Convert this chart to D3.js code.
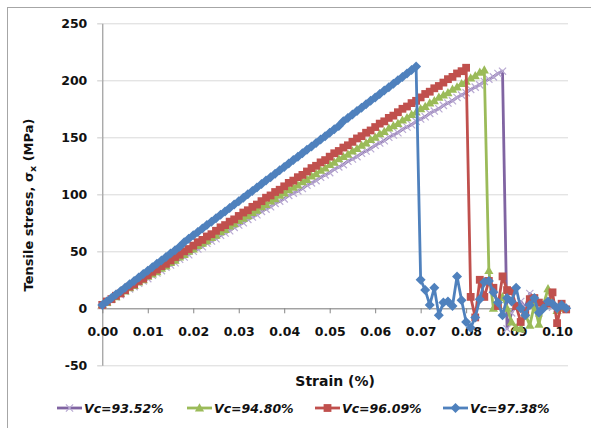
<!DOCTYPE html>
<html>
<head>
<meta charset="utf-8">
<script src="https://cdn.jsdelivr.net/npm/d3@7"></script>
<style>
body { margin: 0; background: #fff; }
#stress-plot svg { display: block; }
</style>
</head>
<body>
<div id="stress-plot"></div>
<script>
// strain (%) sampled by the simulation, shared by all four runs
const strain = [
    0.000, 0.001, 0.002, 0.003, 0.004, 0.005, 0.006, 0.007, 0.008, 0.009,
    0.010, 0.011, 0.012, 0.013, 0.014, 0.015, 0.016, 0.017, 0.018, 0.019,
    0.020, 0.021, 0.022, 0.023, 0.024, 0.025, 0.026, 0.027, 0.028, 0.029,
    0.030, 0.031, 0.032, 0.033, 0.034, 0.035, 0.036, 0.037, 0.038, 0.039,
    0.040, 0.041, 0.042, 0.043, 0.044, 0.045, 0.046, 0.047, 0.048, 0.049,
    0.050, 0.051, 0.052, 0.053, 0.054, 0.055, 0.056, 0.057, 0.058, 0.059,
    0.060, 0.061, 0.062, 0.063, 0.064, 0.065, 0.066, 0.067, 0.068, 0.069,
    0.070, 0.071, 0.072, 0.073, 0.074, 0.075, 0.076, 0.077, 0.078, 0.079,
    0.080, 0.081, 0.082, 0.083, 0.084, 0.085, 0.086, 0.087, 0.088, 0.089,
    0.090, 0.091, 0.092, 0.093, 0.094, 0.095, 0.096, 0.097, 0.098, 0.099,
    0.100, 0.101, 0.102
];

// tensile stress (MPa), one value per strain step
const stressVc9352 = [
    3, 5, 8, 10, 12, 15, 17, 19, 22, 24, 26, 29, 31, 33, 36, 38, 40, 43, 45, 47,
    50, 52, 54, 57, 59, 61, 64, 66, 68, 71, 73, 75, 78, 80, 82, 85, 87, 89, 92, 94,
    96, 99, 101, 103, 105, 108, 110, 112, 115, 117, 119, 122, 124, 126, 129, 131, 133, 136, 138, 140,
    143, 145, 147, 150, 152, 154, 157, 159, 161, 164, 166, 168, 171, 173, 175, 178, 180, 182, 185, 187,
    189, 192, 194, 196, 199, 201, 203, 206, 208,
    -18, -4, 3, 6, 1, 13, 8, -4, 2, 5, 1, 0
];
const stressVc9480 = [
    3, 5, 8, 10, 13, 15, 18, 20, 23, 25, 28, 30, 32, 35, 37, 40, 42, 45, 47, 50,
    52, 55, 57, 59, 62, 64, 67, 69, 72, 74, 77, 79, 81, 84, 86, 89, 91, 94, 96, 99,
    101, 104, 106, 108, 111, 113, 116, 118, 121, 123, 126, 128, 131, 133, 135, 138, 140, 143, 145, 148,
    150, 153, 155, 158, 160, 162, 165, 167, 170, 172, 175, 177, 180, 182, 185, 187, 189, 192, 194, 197,
    199, 202, 204, 207, 209,
    33, 0, 3, 10, 0, -12, -17, -18, -5, -15, 3, -14, 3, 17, 5, -2, 0
];
const stressVc9609 = [
    3, 6, 8, 11, 13, 16, 19, 21, 24, 26, 29, 32, 34, 37, 39, 42, 45, 47, 50, 52,
    55, 58, 60, 63, 65, 68, 71, 73, 76, 78, 81, 84, 86, 89, 91, 94, 97, 99, 102, 104,
    107, 110, 112, 115, 117, 120, 123, 125, 128, 130, 133, 136, 138, 141, 143, 146, 149, 151, 154, 156,
    159, 162, 164, 167, 169, 172, 175, 177, 180, 182, 185, 188, 190, 193, 195, 198, 201, 203, 206, 208,
    211,
    10, -8, 25, 10, 24, 18, 2, 28, 16, 15, 2, -12, -3, 8, 9, 5, 3, 4, 14, -13, 4, -1
];
const stressVc9738 = [
    3, 6, 9, 12, 15, 18, 21, 24, 27, 30, 33, 36, 39, 42, 45, 48, 51, 54, 58, 61,
    64, 67, 70, 73, 76, 79, 82, 85, 88, 91, 94, 97, 100, 103, 106, 109, 112, 115, 118, 121,
    124, 127, 130, 133, 136, 139, 142, 145, 148, 151, 154, 157, 160, 164, 167, 170, 173, 176, 179, 182,
    185, 188, 191, 194, 197, 200, 203, 206, 209, 212,
    25, 16, 3, 18, -6, 5, 6, 2, 28, 7, -12, -17, -8, 8, 23, 24, 14, 5, -6, 9,
    6, 18, 0, -6, 3, 9, -4, 0, 6, 4, 0, 3, 0
];

const seriesNames = ["Vc=93.52%", "Vc=94.80%", "Vc=96.09%", "Vc=97.38%"];
const seriesStress = [stressVc9352, stressVc9480, stressVc9609, stressVc9738];
const xTicks = [0.00, 0.01, 0.02, 0.03, 0.04, 0.05, 0.06, 0.07, 0.08, 0.09, 0.10];
const yTicks = [-50, 0, 50, 100, 150, 200, 250];

class StressStrainPlot {
    constructor(names, stresses) {
        this.margin = { top: 23.3, right: 23, bottom: 62.7, left: 102.3 };
        this.width = 591 - this.margin.left - this.margin.right;
        this.height = 428 - this.margin.top - this.margin.bottom;
        this.series = names.map((name, k) => ({
            name: name,
            points: stresses[k].map((s, i) => [strain[i], s])
        }));

        this.root = d3.select("#stress-plot").append("svg")
            .attr("width", 591)
            .attr("height", 428);

        // chart frame, clipped on the right and bottom like the original
        this.root.append("rect")
            .attr("x", 7.5).attr("y", 7.5)
            .attr("width", 620).attr("height", 460)
            .attr("fill", "none")
            .attr("stroke", "#a6a6a6");

        this.svg = this.root.append("g")
            .attr("transform", `translate(${this.margin.left}, ${this.margin.top})`);

        this.x = d3.scaleLinear().domain([0, 0.1024]).range([0, this.width]);
        this.y = d3.scaleLinear().domain([-50, 250]).range([this.height, 0]);

        this.color = d3.scaleOrdinal()
            .domain(names)
            .range(["#8064A2", "#9BBB59", "#C0504D", "#4F81BD"]);
        this.shape = d3.scaleOrdinal()
            .domain(names)
            .range(["cross", "triangle", "square", "diamond"]);
    }

    markerPath(kind) {
        if (kind === "diamond") return "M0,-5L5,0L0,5L-5,0Z";
        if (kind === "square") return "M-3.9,-3.9H3.9V3.9H-3.9Z";
        if (kind === "triangle") return "M0,-4.8L4.6,3.4H-4.6Z";
        return "M-3.6,-3.6L3.6,3.6M-3.6,3.6L3.6,-3.6";
    }

    styleMarker(sel, name) {
        const kind = this.shape(name);
        if (kind === "cross") {
            sel.attr("fill", "none").attr("stroke", "#b9aad3").attr("stroke-width", 1.2);
        } else {
            sel.attr("fill", this.color(name)).attr("stroke", "none");
        }
    }

    initialize() {
        this.renderAxes();
        this.renderPlot();
        this.renderTitles();
        this.renderLegend();
    }

    renderAxes() {
        const font = "'DejaVu Sans', sans-serif";

        this.svg.append("g")
            .selectAll("line")
            .data(yTicks)
            .join("line")
            .attr("x1", -5)
            .attr("x2", this.width)
            .attr("y1", d => Math.round(this.y(d)) + 0.5)
            .attr("y2", d => Math.round(this.y(d)) + 0.5)
            .attr("stroke", "#d9d9d9");

        const yAxis = this.svg.append("g")
            .call(d3.axisLeft(this.y).tickValues(yTicks).tickFormat(d => String(d))
                .tickSize(5).tickSizeOuter(0).tickPadding(10));
        yAxis.select(".domain").attr("stroke", "#868686");
        yAxis.selectAll(".tick line").attr("stroke", "#d9d9d9");
        yAxis.selectAll("text")
            .style("font-family", font)
            .style("font-size", "12.5px")
            .style("font-weight", "bold")
            .attr("fill", "#111");

        const xAxis = this.svg.append("g")
            .attr("transform", `translate(0, ${this.y(0)})`)
            .call(d3.axisBottom(this.x).tickValues(xTicks).tickFormat(d => d.toFixed(2))
                .tickSize(5).tickSizeOuter(0).tickPadding(13.5));
        xAxis.select(".domain").attr("stroke", "#868686");
        xAxis.selectAll(".tick line").attr("stroke", "#868686");
        xAxis.selectAll("text")
            .style("font-family", font)
            .style("font-size", "12.5px")
            .style("font-weight", "bold")
            .attr("fill", "#111");
    }

    renderPlot() {
        const line = d3.line()
            .x(d => this.x(d[0]))
            .y(d => this.y(d[1]));

        const groups = this.svg.selectAll(".series")
            .data(this.series)
            .join("g")
            .attr("class", "series");

        groups.append("path")
            .attr("d", d => line(d.points))
            .attr("fill", "none")
            .attr("stroke", d => this.color(d.name))
            .attr("stroke-width", 2.8)
            .attr("stroke-linejoin", "round");

        const self = this;
        groups.each(function(s) {
            d3.select(this).selectAll(".mk")
                .data(s.points)
                .join("path")
                .attr("class", "mk")
                .attr("transform", d => `translate(${self.x(d[0])}, ${self.y(d[1])})`)
                .attr("d", self.markerPath(self.shape(s.name)))
                .call(sel => self.styleMarker(sel, s.name));
        });
    }

    renderTitles() {
        const font = "'DejaVu Sans', sans-serif";

        const yTitle = this.root.append("text")
            .attr("transform", "translate(33, 205) rotate(-90)")
            .attr("text-anchor", "middle")
            .style("font-family", font)
            .style("font-size", "13px")
            .style("font-weight", "bold")
            .attr("fill", "#111");
        yTitle.append("tspan").text("Tensile stress, σ");
        yTitle.append("tspan").attr("dy", 3).style("font-size", "9.5px").text("x");
        yTitle.append("tspan").attr("dy", -3).text(" (MPa)");

        this.root.append("text")
            .attr("x", this.margin.left + this.width / 2)
            .attr("y", 386)
            .attr("text-anchor", "middle")
            .style("font-family", font)
            .style("font-size", "14px")
            .style("font-weight", "bold")
            .attr("fill", "#111")
            .text("Strain (%)");
    }

    renderLegend() {
        const slots = [57, 187, 315, 443];
        const legend = this.root.append("g")
            .attr("class", "legend")
            .attr("transform", "translate(0, 408)");

        const items = legend.selectAll("g")
            .data(this.series)
            .join("g")
            .attr("transform", (d, i) => `translate(${slots[i]}, 0)`);

        items.append("line")
            .attr("x1", 0).attr("x2", 25)
            .attr("stroke", d => this.color(d.name))
            .attr("stroke-width", 2.8);

        const self = this;
        items.append("path")
            .attr("transform", "translate(12.5, 0)")
            .attr("d", d => this.markerPath(this.shape(d.name)))
            .each(function(d) { self.styleMarker(d3.select(this), d.name); });

        items.append("text")
            .attr("x", 27)
            .attr("dy", "0.36em")
            .style("font-family", "'DejaVu Sans', sans-serif")
            .style("font-size", "12.5px")
            .style("font-weight", "bold")
            .style("font-style", "italic")
            .attr("fill", "#111")
            .text(d => d.name);
    }
}

const plot = new StressStrainPlot(seriesNames, seriesStress);
plot.initialize();
</script>
</body>
</html>
